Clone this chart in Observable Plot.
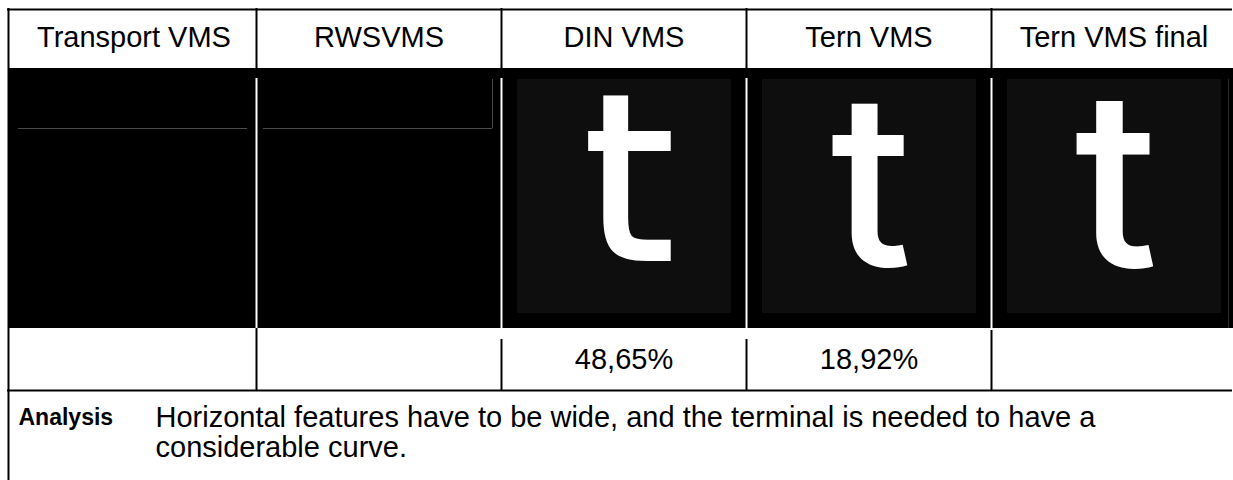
<!DOCTYPE html>
<html>
<head>
<meta charset="utf-8">
<script src="https://cdn.jsdelivr.net/npm/d3@7"></script>
<script src="https://cdn.jsdelivr.net/npm/@observablehq/plot@0.6"></script>
<style>
  html, body { margin: 0; padding: 0; background: #fff; }
  #chart svg { display: block; }
</style>
</head>
<body>
<div id="chart"></div>
<script>
// ---- data ----
const columns = ["Transport VMS", "RWSVMS", "DIN VMS", "Tern VMS", "Tern VMS final"];
const glyphs = ["", "", "t", "t", "t"];
const scores = [null, null, 48.65, 18.92, null];
const analysisLabel = "Analysis";
const analysisLines = [
  "Horizontal features have to be wide, and the terminal is needed to have a",
  "considerable curve."
];

// ---- layout (not data) ----
const W = 1233, H = 480;
const ROW = {top: 9, head: 68, img: 328, val: 390, bottom: 480};
const FONT = "Liberation Sans, Arial, Helvetica, sans-serif";
const glyphStyle = [
  null, null,
  {font: "DejaVu Sans", weight: "normal", size: 230, base: 258, dx: 5, sw: 4},
  {font: "Inter", weight: 500, size: 240, base: 265, dx: 2, sw: 0},
  {font: "Inter", weight: 500, size: 246, base: 266, dx: 2, sw: 0}
];
const valueDividerTop = [328, 339, 339, 330];

const cells = columns.map((name, i) => ({i, label: name, glyph: glyphs[i], score: scores[i], gs: glyphStyle[i]}));
const bounds = d3.range(1, columns.length);
const fmt = v => v.toFixed(2).replace(".", ",") + "%";

const marks = [
  // image band
  Plot.rect([0], {x1: 0, x2: columns.length, y1: ROW.head, y2: ROW.img, fill: "#000", insetLeft: -3}),
  // inner dark squares behind the letters
  Plot.rect(cells.filter(d => d.glyph), {x1: d => d.i, x2: d => d.i + 1, y1: 79, y2: 313, fill: "#0e0e0e", insetLeft: 16, insetRight: 15}),
  // faint lines inside the empty images
  Plot.ruleY(cells.filter(d => !d.glyph), {y: 128, x1: d => d.i, x2: d => d.i + 1, stroke: "#4a4a4a", strokeWidth: 1, insetLeft: 7, insetRight: 9}),
  Plot.ruleX([2], {x: d => d, dx: -9, y1: 79, y2: 128, stroke: "#4a4a4a", strokeWidth: 1}),
  Plot.ruleX([5], {x: d => d, dx: -8, y1: 79, y2: 328, stroke: "#2a2a2a", strokeWidth: 1}),
  // white gaps between images
  Plot.ruleX(bounds, {x: d => d, y1: 78, y2: ROW.img, stroke: "#fff", strokeWidth: 2}),
  // header dividers
  Plot.ruleX(bounds, {x: d => d, y1: ROW.top - 1, y2: ROW.head, stroke: "#000", strokeWidth: 2}),
  // value row dividers
  Plot.ruleX(bounds, {x: d => d, y1: (d, k) => valueDividerTop[k], y2: ROW.val, stroke: "#000", strokeWidth: 2}),
  // outer borders
  Plot.ruleX([0], {x: d => d, dx: -3, y1: ROW.top - 1, y2: ROW.bottom, stroke: "#000", strokeWidth: 2}),
  Plot.ruleY([ROW.top, ROW.val], {y: d => d, x1: 0, x2: columns.length, dx: -4, stroke: "#000", strokeWidth: 2}),
  // header labels
  Plot.text(cells, {x: d => d.i + 0.5, y: 46, text: d => d.label, lineAnchor: "bottom", fontSize: 29, fill: "#000"}),
  // letters (sample renderings)
  ...cells.filter(d => d.glyph).map(d => Plot.text([d], {
    x: c => c.i + 0.5, y: c => c.gs.base, text: c => c.glyph, lineAnchor: "bottom",
    fontSize: d.gs.size, fontFamily: d.gs.font, fontWeight: d.gs.weight,
    fill: "#fff", stroke: d.gs.sw ? "#fff" : "none", strokeWidth: d.gs.sw, strokeLinejoin: "miter", dx: d.gs.dx
  })),
  // score values
  Plot.text(cells.filter(d => d.score != null), {x: d => d.i + 0.5, y: 368, text: d => fmt(d.score), lineAnchor: "bottom", fontSize: 29, fill: "#000"}),
  // analysis row
  Plot.text([analysisLabel], {x: 0, y: 424, dx: 7, text: d => d, textAnchor: "start", lineAnchor: "bottom", fontSize: 23, fontWeight: "bold", fill: "#000"}),
  Plot.text([analysisLines.join("\n")], {x: 0, y: 456, dx: 144, text: d => d, textAnchor: "start", lineAnchor: "bottom", lineHeight: 1.03, fontSize: 29, fill: "#000"})
];

const chart = Plot.plot({
  width: W, height: H,
  marginTop: 0, marginRight: 0, marginBottom: 0, marginLeft: 0,
  x: {domain: [0, 5], range: [11, 1236], axis: null},
  y: {domain: [0, H], range: [0, H], axis: null},
  style: {background: "#fff", fontFamily: FONT},
  marks
});
document.getElementById("chart").appendChild(chart);
</script>
</body>
</html>
